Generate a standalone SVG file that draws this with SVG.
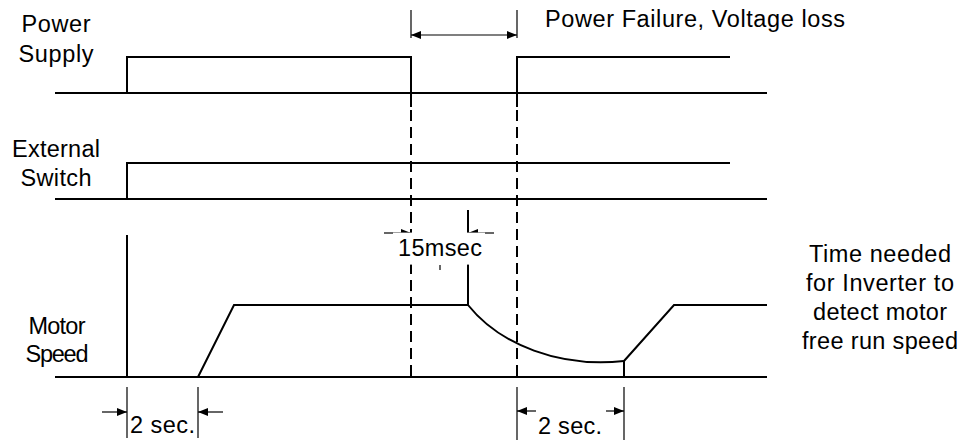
<svg xmlns="http://www.w3.org/2000/svg" width="961" height="441" viewBox="0 0 961 441">
  <style>
    text { font-family: "Liberation Sans", Arial, sans-serif; font-size: 23.5px; fill: #000; }
    .sig { fill: none; stroke: #000; stroke-width: 2; }
    .base { fill: none; stroke: #000; stroke-width: 2; }
    .dash { fill: none; stroke: #000; stroke-width: 2; stroke-dasharray: 11 6; }
    .dim { fill: none; stroke: #000; stroke-width: 1.2; }
    .mid { text-anchor: middle; }
  </style>
  <defs>
    <marker id="ah" viewBox="0 0 10 8" refX="10" refY="4" markerWidth="10" markerHeight="8" markerUnits="userSpaceOnUse" orient="auto">
      <path d="M0,0 L10,4 L0,8 Z" fill="#000"/>
    </marker>
  </defs>
  <rect width="961" height="441" fill="#fff"/>

  <!-- signal labels -->
  <g id="label-power">
    <text x="56" y="32" class="mid" textLength="69" lengthAdjust="spacing">Power</text>
    <text x="56" y="62" class="mid" textLength="75" lengthAdjust="spacing">Supply</text>
  </g>
  <g id="label-switch">
    <text x="56" y="157" class="mid" textLength="88" lengthAdjust="spacing">External</text>
    <text x="56" y="186" class="mid" textLength="71" lengthAdjust="spacing">Switch</text>
  </g>
  <g id="label-motor">
    <text x="57" y="334" class="mid" textLength="57" lengthAdjust="spacing">Motor</text>
    <text x="57" y="362" class="mid" textLength="63" lengthAdjust="spacing">Speed</text>
  </g>

  <!-- power supply trace -->
  <g id="power-supply">
    <line class="base" x1="55" y1="93" x2="767" y2="93"/>
    <polyline class="sig" points="127,93 127,57 411,57 411,107"/>
    <polyline class="sig" points="517,107 517,57 730,57"/>
  </g>

  <!-- external switch trace -->
  <g id="external-switch">
    <line class="base" x1="55" y1="199" x2="767" y2="199"/>
    <polyline class="sig" points="127,199 127,163 730,163"/>
  </g>

  <!-- motor speed trace -->
  <g id="motor-speed">
    <line class="base" x1="55" y1="377" x2="767" y2="377"/>
    <line class="sig" x1="127" y1="235" x2="127" y2="377"/>
    <polyline class="sig" points="198,377 234,305 468,305"/>
    <line class="sig" x1="468" y1="210" x2="468" y2="305"/>
    <path class="sig" d="M468,305 C500,345 560,368 624,361"/>
    <line class="sig" x1="624" y1="361" x2="624" y2="377"/>
    <polyline class="sig" points="624,361 674,305 767,305"/>
  </g>

  <!-- timing guides and dimensions -->
  <g id="connectors">
    <line class="dash" x1="411" y1="110" x2="411" y2="377"/>
    <line class="dash" x1="517" y1="110" x2="517" y2="377"/>

    <!-- power failure interval -->
    <line class="dim" x1="411" y1="10" x2="411" y2="38"/>
    <line class="dim" x1="517" y1="10" x2="517" y2="38"/>
    <line class="dim" x1="464" y1="35" x2="411" y2="35" marker-end="url(#ah)"/>
    <line class="dim" x1="464" y1="35" x2="517" y2="35" marker-end="url(#ah)"/>

    <!-- 15 msec interval -->
    <line class="dim" x1="384" y1="233" x2="411" y2="233" marker-end="url(#ah)"/>
    <line class="dim" x1="494" y1="233" x2="468" y2="233" marker-end="url(#ah)"/>

    <!-- start-up delay -->
    <line class="dim" x1="127" y1="387" x2="127" y2="438"/>
    <line class="dim" x1="198" y1="387" x2="198" y2="438"/>
    <line class="dim" x1="102" y1="412" x2="127" y2="412" marker-end="url(#ah)"/>
    <line class="dim" x1="223" y1="412" x2="198" y2="412" marker-end="url(#ah)"/>

    <!-- speed search delay -->
    <line class="dim" x1="517" y1="387" x2="517" y2="440"/>
    <line class="dim" x1="624" y1="387" x2="624" y2="440"/>
    <line class="dim" x1="536" y1="411" x2="517" y2="411" marker-end="url(#ah)"/>
    <line class="dim" x1="606" y1="411" x2="624" y2="411" marker-end="url(#ah)"/>
  </g>

  <!-- 15 msec label on its own backing -->
  <g id="label-15msec">
    <rect x="393" y="232.6" width="92" height="32" fill="#fff"/>
    <line class="dim" x1="440" y1="265" x2="440" y2="270"/>
    <text x="398" y="256" textLength="84" lengthAdjust="spacing">15msec</text>
  </g>

  <g id="label-failure">
    <text x="545" y="27" textLength="300" lengthAdjust="spacing">Power Failure, Voltage loss</text>
  </g>

  <g id="label-delay-left">
    <text x="130" y="433" textLength="65" lengthAdjust="spacing">2 sec.</text>
  </g>
  <g id="label-delay-right">
    <text x="538" y="434" textLength="64" lengthAdjust="spacing">2 sec.</text>
  </g>

  <g id="label-note">
    <text x="880" y="262" class="mid" textLength="142" lengthAdjust="spacing">Time needed</text>
    <text x="880" y="291" class="mid" textLength="148" lengthAdjust="spacing">for Inverter to</text>
    <text x="880" y="320" class="mid" textLength="134" lengthAdjust="spacing">detect motor</text>
    <text x="880" y="349" class="mid" textLength="156" lengthAdjust="spacing">free run speed</text>
  </g>
</svg>
